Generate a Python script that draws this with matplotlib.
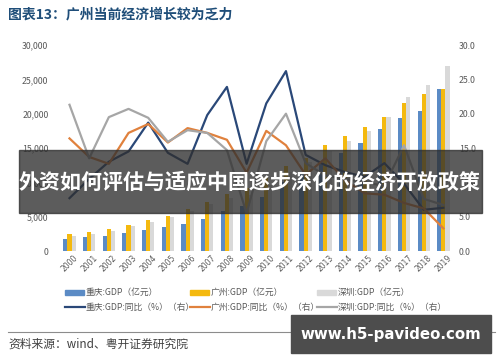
import numpy as np
import matplotlib
matplotlib.use("Agg")
import matplotlib.pyplot as plt
from matplotlib.patches import Rectangle
from matplotlib.lines import Line2D
from matplotlib.ticker import FuncFormatter

plt.rcParams['font.family'] = ['Noto Sans CJK SC', 'DejaVu Sans']

years = [str(y) for y in range(2000, 2020)]

# GDP（亿元）
cq_gdp = [1791, 1977, 2233, 2556, 3035, 3468, 3907, 4676, 5794, 6530,
          7926, 10011, 11410, 12783, 14263, 15717, 17741, 19425, 20363, 23606]
gz_gdp = [2492, 2841, 3204, 3758, 4450, 5154, 6081, 7141, 8287, 9138,
          10748, 12423, 13551, 15420, 16707, 18100, 19547, 21503, 22859, 23629]
sz_gdp = [2187, 2482, 2970, 3586, 4282, 4951, 5814, 6801, 7787, 8201,
          9582, 11506, 12950, 14500, 16002, 17503, 19493, 22490, 24222, 26927]

# GDP 同比（%）
cq_yoy = [7.7, 10.5, 13.0, 14.5, 18.7, 14.3, 12.7, 19.8, 23.9, 12.7,
          21.5, 26.2, 14.0, 12.5, 11.5, 10.8, 12.8, 9.8, 6.0, 6.3]
gz_yoy = [16.4, 13.7, 12.7, 17.2, 18.5, 15.8, 17.9, 17.2, 16.2, 11.4,
          17.5, 15.4, 11.1, 13.5, 10.3, 8.4, 8.2, 7.0, 6.2, 3.3]
sz_yoy = [21.3, 13.5, 19.5, 20.7, 19.4, 15.9, 17.6, 17.2, 14.7, 5.5,
          16.0, 20.0, 12.8, 11.0, 10.5, 10.0, 9.5, 15.4, 7.6, 6.7]

c_cq_bar, c_gz_bar, c_sz_bar = '#5b8bc5', '#f4b90f', '#d9d9d9'
c_cq_line, c_gz_line, c_sz_line = '#2a4878', '#e0813d', '#a6a6a6'
txt_gray = '#595959'

fig = plt.figure(figsize=(5, 3.62), dpi=100)
ax = fig.add_axes([0.1134, 0.3066, 0.799, 0.569])
x = np.arange(len(years))
w = 0.21
ax.bar(x - w, cq_gdp, w, color=c_cq_bar, zorder=2)
ax.bar(x, gz_gdp, w, color=c_gz_bar, zorder=2)
ax.bar(x + w, sz_gdp, w, color=c_sz_bar, zorder=2)
ax.set_xlim(-0.65, 19.65)
ax.set_ylim(0, 30000)
ax.set_yticks(range(0, 30001, 5000))
ax.yaxis.set_major_formatter(FuncFormatter(lambda v, p: f"{int(v):,}"))
ax.set_xticks(x)
ax.set_xticklabels(years, rotation=45, fontsize=5.5, color=txt_gray,
                   ha='center', family='DejaVu Sans')
ax.tick_params(axis='both', length=0, pad=2)
ax.tick_params(axis='y', labelsize=6.3, labelcolor=txt_gray, pad=6)
for s in ax.spines.values():
    s.set_visible(False)

ax2 = ax.twinx()
ax2.plot(x, cq_yoy, color=c_cq_line, lw=1.6)
ax2.plot(x, gz_yoy, color=c_gz_line, lw=1.6)
ax2.plot(x, sz_yoy, color=c_sz_line, lw=1.6)
ax2.set_ylim(0, 30)
ax2.set_yticks(range(0, 31, 5))
ax2.yaxis.set_major_formatter(FuncFormatter(lambda v, p: f"{v:.1f}"))
ax2.tick_params(axis='y', length=0, labelsize=6.3, labelcolor=txt_gray, pad=2)
for s in ax2.spines.values():
    s.set_visible(False)

W, H = 500, 362

# title
fig.text(8 / W, 1 - 14 / H, "图表13：广州当前经济增长较为乏力", fontsize=10,
         fontweight='bold', color='#1f4e79', va='center', ha='left')

# legend drawn by hand
cols = [65, 190, 317]
rows = [292, 307]
labels_bar = ["重庆:GDP（亿元）", "广州:GDP（亿元）", "深圳:GDP（亿元）"]
labels_line = ["重庆:GDP:同比（%）（右）", "广州:GDP:同比（%）（右）", "深圳:GDP:同比（%）（右）"]
bar_cols = [c_cq_bar, c_gz_bar, c_sz_bar]
line_cols = [c_cq_line, c_gz_line, c_sz_line]
for i in range(3):
    cx = cols[i]
    fig.add_artist(Rectangle((cx / W, 1 - (rows[0] + 2.5) / H), 19 / W, 5 / H,
                             color=bar_cols[i], transform=fig.transFigure))
    fig.text((cx + 21) / W, 1 - rows[0] / H, labels_bar[i], fontsize=6.3,
             color=txt_gray, va='center', ha='left')
    fig.add_artist(Line2D([cx / W, (cx + 20) / W], [1 - rows[1] / H] * 2,
                          color=line_cols[i], lw=1.6, transform=fig.transFigure))
    fig.text((cx + 21) / W, 1 - rows[1] / H, labels_line[i], fontsize=6.3,
             color=txt_gray, va='center', ha='left')

# source line and note
fig.add_artist(Line2D([8 / W, 495 / W], [1 - 331.5 / H] * 2, color='#8c8c8c',
                      lw=0.8, transform=fig.transFigure))
fig.text(8 / W, 1 - 344 / H, "资料来源：wind、粤开证券研究院", fontsize=8.5,
         color='#404040', va='center', ha='left', style='italic')

# overlay banner
fig.add_artist(Rectangle((19 / W, 1 - 213 / H), 463 / W, 63 / H, color='#2e2e2e',
                         alpha=0.78, transform=fig.transFigure, zorder=10))
fig.text(250 / W, 1 - 182 / H, "外资如何评估与适应中国逐步深化的经济开放政策",
         fontsize=15.1, fontweight='bold', color='white', ha='center',
         va='center', zorder=11)

# watermark box
fig.add_artist(Rectangle((291 / W, 1 - 352.7 / H), 200 / W, 37.7 / H,
                         color='#4d4d4d', transform=fig.transFigure, zorder=10))
fig.text(391 / W, 1 - 334 / H, "www.h5-pavideo.com", fontsize=10.8,
         fontweight='bold', color='white', ha='center', va='center',
         zorder=11, family='DejaVu Sans')

fig.savefig("out.png", dpi=100)
